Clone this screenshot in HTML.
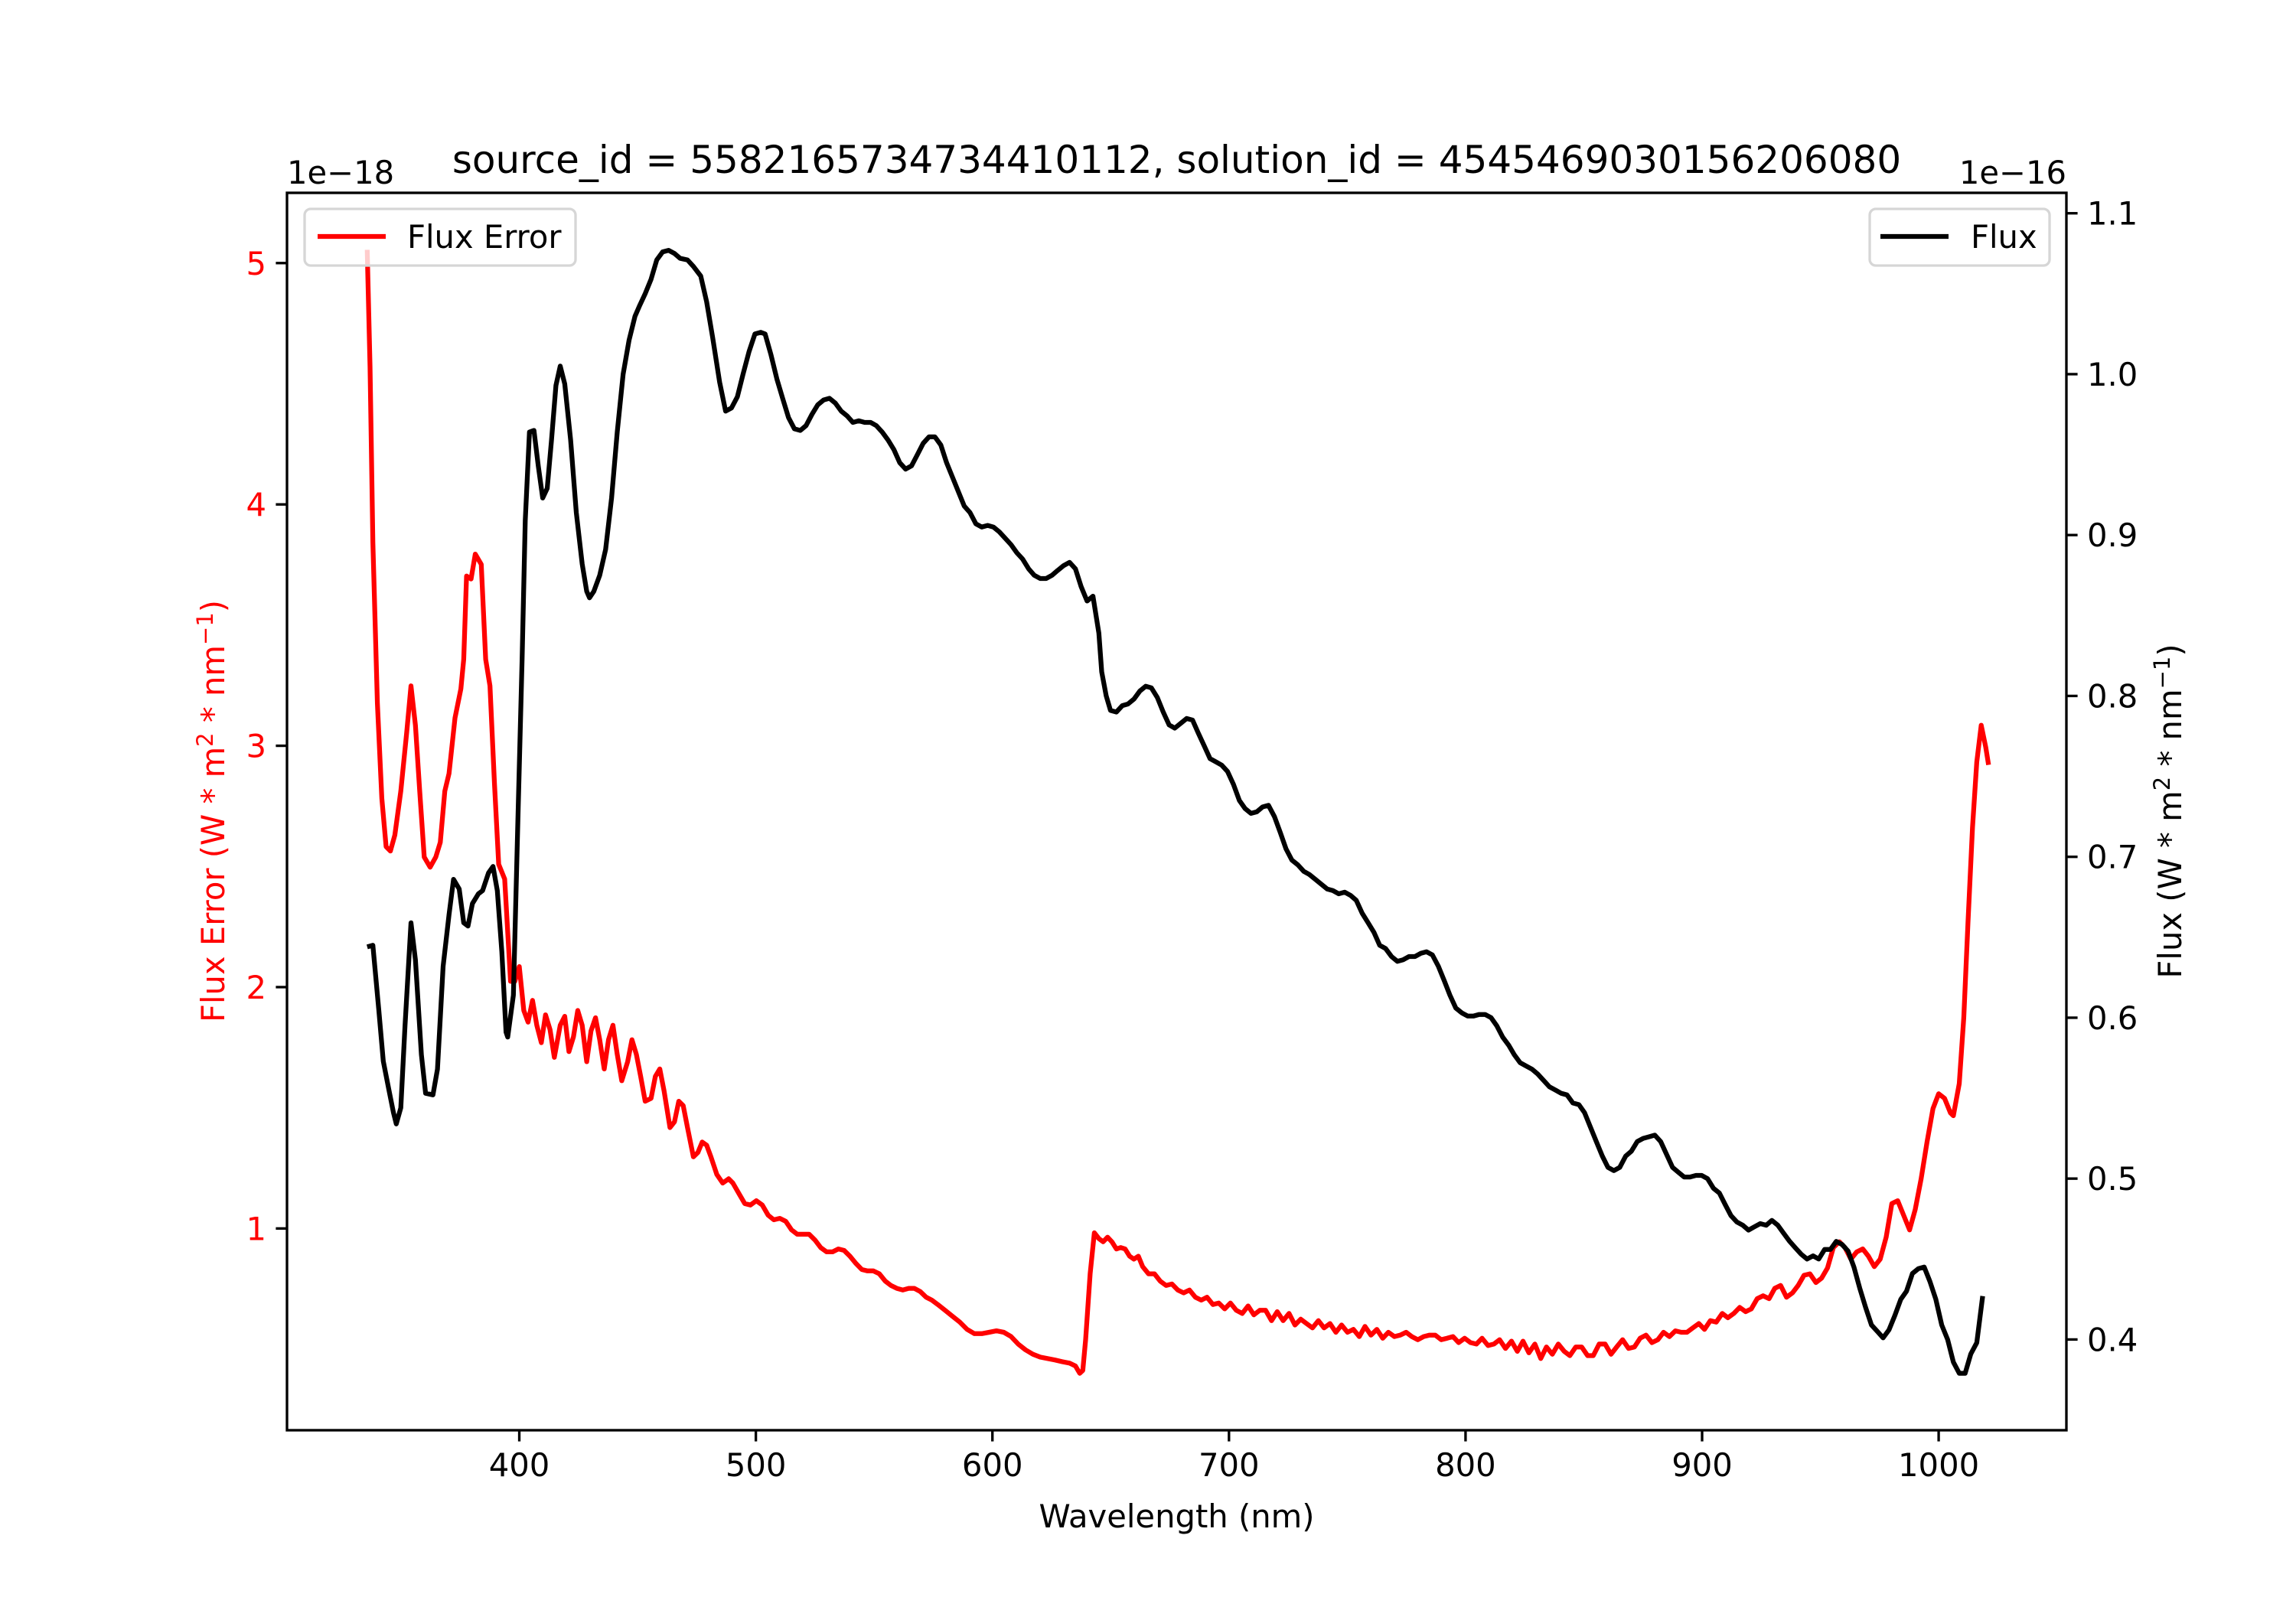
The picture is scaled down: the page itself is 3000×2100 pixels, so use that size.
<!DOCTYPE html>
<html><head><meta charset="utf-8"><style>
html,body{margin:0;padding:0;background:#fff;}
svg{display:block;font-family:"DejaVu Sans","Liberation Sans",sans-serif;}
</style></head><body>
<svg id="chart" width="3000" height="2100" viewBox="0 0 3000 2100">
<rect x="0" y="0" width="3000" height="2100" fill="#fff"/>
<g id="lines"></g>
<g id="axes"></g>
</svg>
<script>
// Flux (units 1e-16 W m^-2 nm^-1)
const fluxWave = [335.7,338.1,340.6,342.5,344.9,346.8,348.0,349.9,351.7,354.2,356.1,358.6,360.4,363.5,365.4,367.8,370.3,372.2,374.6,376.5,378.3,380.2,382.7,384.5,387.0,388.9,390.7,392.6,394.4,395.1,397.5,399.4,401.2,402.5,404.3,406.2,408.0,409.9,411.8,413.6,415.5,417.3,419.2,421.7,424.1,426.6,428.5,429.7,431.5,434.0,436.5,439.0,441.4,443.9,446.4,448.9,450.7,453.2,455.7,458.1,460.6,463.1,465.6,468.0,471.1,473.6,476.7,479.2,481.7,484.7,487.2,489.7,492.2,494.6,497.1,499.6,502.1,503.9,506.4,508.9,511.3,513.8,516.3,518.8,521.2,523.7,526.2,528.7,531.1,533.6,536.1,538.6,541.0,543.5,546.0,548.5,550.9,553.4,555.9,558.4,560.8,563.3,565.8,568.3,570.7,573.2,575.7,578.2,580.6,583.1,585.6,588.1,590.5,593.0,595.5,598.0,600.4,602.9,605.4,607.9,610.3,612.8,615.3,617.7,620.2,622.7,625.2,627.6,630.1,632.6,635.1,637.5,640.0,642.5,645.0,646.2,648.1,649.9,652.4,654.9,657.3,659.8,662.3,664.8,667.2,669.7,672.2,674.7,677.1,679.6,682.1,684.6,687.0,689.5,692.0,694.5,696.9,699.4,701.9,704.4,706.8,709.3,711.8,714.2,716.7,719.2,721.7,724.1,726.6,729.1,731.6,734.0,736.5,739.0,741.5,743.9,746.4,748.9,751.4,753.8,756.3,758.8,761.3,763.7,766.2,768.7,771.2,773.6,776.1,778.6,781.1,783.5,786.0,788.5,791.0,793.4,795.9,798.4,800.9,803.3,805.8,808.3,810.8,813.2,815.7,818.2,820.6,823.1,825.6,828.1,830.5,833.0,835.5,838.0,840.4,842.9,845.4,847.9,850.3,852.8,855.3,857.8,860.2,862.7,865.2,867.7,870.1,872.6,875.1,877.6,880.0,882.5,885.0,887.5,889.9,892.4,894.9,897.4,899.8,902.3,904.8,907.3,909.7,912.2,914.7,917.2,919.6,922.1,924.6,927.1,929.5,932.0,934.5,937.0,939.4,941.9,944.4,946.9,949.3,951.8,954.3,956.7,959.2,961.7,964.2,966.6,969.1,971.6,974.1,976.5,979.0,981.5,984.0,986.4,988.9,991.4,993.9,996.3,998.8,1001.3,1003.8,1006.2,1008.7,1011.2,1013.6,1016.1,1018.6];
const fluxVals = [0.644,0.645,0.605,0.573,0.555,0.541,0.534,0.544,0.595,0.659,0.636,0.577,0.553,0.552,0.568,0.632,0.664,0.686,0.680,0.659,0.657,0.671,0.677,0.679,0.690,0.694,0.679,0.641,0.591,0.588,0.614,0.723,0.823,0.909,0.964,0.965,0.943,0.923,0.929,0.959,0.993,1.005,0.994,0.959,0.914,0.882,0.865,0.861,0.865,0.875,0.891,0.923,0.964,1.000,1.021,1.036,1.042,1.050,1.059,1.071,1.076,1.077,1.075,1.072,1.071,1.067,1.061,1.045,1.023,0.995,0.977,0.979,0.986,1.000,1.014,1.025,1.026,1.025,1.012,0.997,0.985,0.973,0.966,0.965,0.968,0.975,0.981,0.984,0.985,0.982,0.977,0.974,0.970,0.971,0.970,0.970,0.968,0.964,0.959,0.953,0.945,0.941,0.943,0.950,0.957,0.961,0.961,0.956,0.945,0.936,0.927,0.918,0.914,0.907,0.905,0.906,0.905,0.902,0.898,0.894,0.889,0.885,0.879,0.875,0.873,0.873,0.875,0.878,0.881,0.883,0.879,0.868,0.859,0.862,0.839,0.815,0.800,0.791,0.790,0.794,0.795,0.798,0.803,0.806,0.805,0.799,0.790,0.782,0.780,0.783,0.786,0.785,0.777,0.769,0.761,0.759,0.757,0.753,0.745,0.735,0.730,0.727,0.728,0.731,0.732,0.725,0.715,0.705,0.698,0.695,0.691,0.689,0.686,0.683,0.680,0.679,0.677,0.678,0.676,0.673,0.665,0.659,0.653,0.645,0.643,0.638,0.635,0.636,0.638,0.638,0.640,0.641,0.639,0.632,0.623,0.614,0.606,0.603,0.601,0.601,0.602,0.602,0.600,0.595,0.588,0.583,0.577,0.572,0.570,0.568,0.565,0.561,0.557,0.555,0.553,0.552,0.547,0.546,0.541,0.532,0.523,0.514,0.507,0.505,0.507,0.514,0.517,0.523,0.525,0.526,0.527,0.523,0.515,0.507,0.504,0.501,0.501,0.502,0.502,0.500,0.494,0.491,0.484,0.477,0.473,0.471,0.468,0.470,0.472,0.471,0.474,0.471,0.466,0.461,0.457,0.453,0.450,0.452,0.450,0.456,0.456,0.461,0.459,0.455,0.445,0.432,0.420,0.409,0.405,0.401,0.406,0.415,0.425,0.430,0.441,0.444,0.445,0.436,0.425,0.409,0.400,0.386,0.379,0.379,0.391,0.398,0.427];
// Flux error (units 1e-18 W m^-2 nm^-1)
const errWave = [335.7,336.9,338.1,340.0,341.9,343.7,345.5,347.4,349.9,352.4,354.2,356.1,357.9,359.8,362.3,364.7,366.6,368.5,370.3,372.8,375.3,376.5,377.7,379.6,381.4,383.9,385.8,387.6,389.5,391.3,393.8,396.3,398.1,400.0,401.9,403.7,405.6,407.4,409.3,411.1,413.0,414.8,417.3,419.2,421.0,422.9,424.7,426.6,428.5,430.3,432.2,434.0,435.9,437.7,439.6,441.4,443.3,445.8,447.6,449.5,451.3,453.2,455.7,457.5,459.4,461.2,463.7,465.6,467.4,469.3,471.1,473.6,475.5,477.3,479.2,481.0,483.5,486.0,488.5,490.3,492.8,495.3,497.7,500.2,502.7,505.2,507.6,510.1,512.6,515.1,517.5,520.0,522.5,525.0,527.4,529.9,532.4,534.9,537.3,539.8,542.3,544.8,547.2,549.7,552.2,554.7,557.1,559.6,562.1,564.6,567.0,569.5,572.0,574.4,576.9,580.0,583.1,586.2,589.3,592.4,595.5,598.6,601.7,604.8,607.9,610.9,614.0,617.1,620.2,623.3,626.4,629.5,632.6,635.1,636.9,638.2,639.4,641.3,643.1,645.0,646.8,648.7,650.5,652.4,654.2,656.1,658.0,659.8,661.7,663.5,666.0,668.5,670.9,673.4,
675.9,678.4,680.8,683.3,685.8,688.3,690.7,693.2,695.7,698.2,
700.6,703.1,705.6,708.1,710.5,713.0,715.5,718.0,720.4,722.9,
725.4,727.9,730.3,732.8,735.3,737.8,740.2,742.7,745.2,747.6,
750.1,752.6,755.1,757.5,760.0,762.5,765.0,767.4,769.9,772.4,
774.9,777.3,779.8,782.3,784.8,787.2,789.7,792.2,794.7,797.1,
799.6,802.1,804.6,807.0,809.5,812.0,814.4,816.9,819.4,821.9,
824.3,826.8,829.3,831.8,834.2,836.7,839.2,841.7,844.1,846.6,
849.1,851.6,854.0,856.5,859.0,861.5,863.9,866.4,868.9,871.4,
873.8,876.3,878.8,881.3,883.7,886.2,888.7,891.2,893.6,896.1,
898.6,901.0,903.5,906.0,908.5,910.9,913.4,915.9,918.4,920.8,
923.3,925.8,928.3,930.7,933.2,935.7,938.2,940.6,943.1,945.6,
948.1,950.5,953.0,955.5,958.0,960.4,962.9,965.4,967.9,970.3,
972.8,975.3,977.8,980.2,982.7,985.2,987.7,990.1,992.6,995.1,
997.6,1000.0,1002.5,1005.0,1006.2,1008.7,1010.6,1012.4,1014.3,1016.1,1018.0,1019.9,1021.1];
const errVals = [5.055,4.570,3.842,3.176,2.782,2.582,2.564,2.630,2.812,3.055,3.248,3.085,2.812,2.539,2.497,2.539,2.600,2.812,2.885,3.115,3.236,3.358,3.703,3.691,3.794,3.752,3.358,3.248,2.842,2.509,2.448,2.024,2.024,2.085,1.903,1.855,1.945,1.842,1.770,1.885,1.824,1.709,1.842,1.879,1.733,1.794,1.903,1.842,1.691,1.818,1.873,1.782,1.661,1.782,1.842,1.721,1.612,1.691,1.782,1.721,1.630,1.527,1.539,1.630,1.661,1.570,1.418,1.442,1.527,1.509,1.418,1.297,1.315,1.358,1.345,1.297,1.224,1.188,1.206,1.188,1.145,1.103,1.097,1.115,1.097,1.055,1.036,1.042,1.030,0.994,0.976,0.976,0.976,0.952,0.921,0.903,0.903,0.915,0.909,0.885,0.855,0.830,0.824,0.824,0.812,0.782,0.764,0.752,0.745,0.752,0.752,0.739,0.715,0.703,0.685,0.661,0.636,0.612,0.582,0.564,0.564,0.570,0.576,0.570,0.552,0.521,0.497,0.479,0.467,0.461,0.455,0.448,0.442,0.430,0.400,0.412,0.539,0.812,0.982,0.958,0.945,0.964,0.945,0.915,0.921,0.915,0.885,0.873,0.885,0.842,0.812,0.812,0.782,0.764,
0.770,0.745,0.733,0.745,0.715,0.703,0.715,0.685,0.691,0.667,
0.691,0.661,0.648,0.679,0.642,0.661,0.661,0.618,0.655,0.618,
0.648,0.600,0.624,0.606,0.588,0.618,0.588,0.606,0.570,0.600,
0.570,0.582,0.552,0.594,0.558,0.582,0.545,0.570,0.552,0.558,
0.570,0.552,0.539,0.552,0.558,0.558,0.539,0.545,0.552,0.527,
0.545,0.527,0.521,0.545,0.515,0.521,0.539,0.503,0.533,0.491,
0.533,0.485,0.521,0.461,0.509,0.479,0.521,0.491,0.473,0.509,
0.509,0.473,0.473,0.521,0.521,0.479,0.509,0.539,0.503,0.509,
0.545,0.558,0.527,0.539,0.570,0.552,0.576,0.570,0.570,0.588,
0.606,0.582,0.618,0.612,0.648,0.630,0.648,0.673,0.655,0.667,
0.709,0.721,0.709,0.752,0.764,0.715,0.733,0.764,0.806,0.812,
0.776,0.794,0.836,0.921,0.945,0.921,0.873,0.903,0.915,0.885,
0.842,0.873,0.964,1.103,1.115,1.055,0.994,1.079,1.206,1.358,
1.497,1.558,1.539,1.479,1.467,1.600,1.873,2.267,2.661,2.933,3.085,2.994,2.921];
const xTicks = [400,500,600,700,800,900,1000];
const leftTicks = [1,2,3,4,5];
const rightTicks = [0.4,0.5,0.6,0.7,0.8,0.9,1.0,1.1];
const rightTickLabels = ["0.4","0.5","0.6","0.7","0.8","0.9","1.0","1.1"];

const NS = "http://www.w3.org/2000/svg";
const L = 375, R = 2700, T = 252, B = 1869;
const xDom = [301.8, 1054.0], lDom = [0.164, 5.291], rDom = [0.3436, 1.1127];
function xs(w){ return L + (w - xDom[0]) / (xDom[1] - xDom[0]) * (R - L); }
function yl(v){ return B - (v - lDom[0]) / (lDom[1] - lDom[0]) * (B - T); }
function yr(v){ return B - (v - rDom[0]) / (rDom[1] - rDom[0]) * (B - T); }
function mk(tag, attrs, parent){ const e = document.createElementNS(NS, tag); for (const k in attrs) e.setAttribute(k, attrs[k]); parent.appendChild(e); return e; }
function txt(s, attrs, parent){ const e = mk('text', attrs, parent); e.textContent = s; return e; }

const lines = document.getElementById('lines');
const axes = document.getElementById('axes');

const defs = mk('defs', {}, lines);
const cp = mk('clipPath', {id:'clip'}, defs);
mk('rect', {x:L, y:T, width:R-L, height:B-T}, cp);

const errPath = mk('path', {d: errWave.map((w,i)=>(i?'L':'M')+xs(w).toFixed(1)+','+yl(errVals[i]).toFixed(1)).join(''), fill:'none', stroke:'#ff0000', 'stroke-width':6.25, 'stroke-linejoin':'round', 'clip-path':'url(#clip)'}, lines);


const fluxPath = mk('path', {d: fluxWave.map((w,i)=>(i?'L':'M')+xs(w).toFixed(1)+','+yr(fluxVals[i]).toFixed(1)).join(''), fill:'none', stroke:'#000', 'stroke-width':6.25, 'stroke-linejoin':'round', 'clip-path':'url(#clip)'}, lines);



const frame = mk('rect', {x:L, y:T, width:R-L, height:B-T, fill:'none', stroke:'#000', 'stroke-width':3.33}, axes);



const FS = 41.7;
xTicks.forEach(t=>{
  const x = xs(t);
  const tk = mk('line', {x1:x, x2:x, y1:B, y2:B+14.6, stroke:'#000', 'stroke-width':3.33}, axes);
  
  
  const lb = txt(String(t), {x:x, y:B+60, 'font-size':FS, 'text-anchor':'middle'}, axes);
  
  
});
leftTicks.forEach(t=>{
  const y = yl(t);
  const tk = mk('line', {x1:L-14.6, x2:L, y1:y, y2:y, stroke:'#000', 'stroke-width':3.33}, axes);
  
  
  const lb = txt(String(t), {x:L-27, y:y+15, 'font-size':FS, 'text-anchor':'end', fill:'#ff0000'}, axes);
  
  
});
rightTicks.forEach((t,i)=>{
  const y = yr(t);
  const tk = mk('line', {x1:R, x2:R+14.6, y1:y, y2:y, stroke:'#000', 'stroke-width':3.33}, axes);
  
  
  const lb = txt(rightTickLabels[i], {x:R+27, y:y+15, 'font-size':FS, 'text-anchor':'start'}, axes);
  
  
});
</script>
<script>
(function(){
const svg = document.getElementById('chart');
const NS = "http://www.w3.org/2000/svg";
function mk(tag, attrs){ const e = document.createElementNS(NS, tag); for (const k in attrs) e.setAttribute(k, attrs[k]); svg.appendChild(e); return e; }
function txt(s, attrs){ const e = mk('text', attrs); e.textContent = s; return e; }
const t1 = txt('source_id = 5582165734734410112, solution_id = 4545469030156206080', {x:1537.5, y:226, 'font-size':50, 'text-anchor':'middle'});


const o1 = txt('1e\u221218', {x:375, y:240, 'font-size':41.7, 'text-anchor':'start'});


const o2 = txt('1e\u221216', {x:2700, y:240, 'font-size':41.7, 'text-anchor':'end'});


const xl = txt('Wavelength (nm)', {x:1537.5, y:1996, 'font-size':41.7, 'text-anchor':'middle'});


const ylT = txt('', {transform:'translate(293,1060) rotate(-90)', 'font-size':41.7, 'text-anchor':'middle', fill:'#ff0000'});
ylT.innerHTML = 'Flux Error (W * m<tspan dy="-15" font-size="29">2</tspan><tspan dy="15"> * nm</tspan><tspan dy="-15" font-size="29">\u22121</tspan><tspan dy="15">)</tspan>';


const yrT = txt('', {transform:'translate(2850,1060) rotate(-90)', 'font-size':41.7, 'text-anchor':'middle'});
yrT.innerHTML = 'Flux (W * m<tspan dy="-15" font-size="29">2</tspan><tspan dy="15"> * nm</tspan><tspan dy="-15" font-size="29">\u22121</tspan><tspan dy="15">)</tspan>';


const lg1 = mk('rect', {x:398, y:273, width:354, height:74, rx:8, fill:'#fff', 'fill-opacity':0.8, stroke:'#d6d6d6', 'stroke-width':3.3});


const ll1 = mk('line', {x1:415, x2:504, y1:309, y2:309, stroke:'#ff0000', 'stroke-width':6.25});


const lt1 = txt('Flux Error', {x:532, y:324, 'font-size':41.7});


const lg2 = mk('rect', {x:2443, y:273, width:235, height:74, rx:8, fill:'#fff', 'fill-opacity':0.8, stroke:'#d6d6d6', 'stroke-width':3.3});


const ll2 = mk('line', {x1:2457, x2:2546, y1:309, y2:309, stroke:'#000', 'stroke-width':6.25});


const lt2 = txt('Flux', {x:2575, y:324, 'font-size':41.7});


})();
</script>
</body></html>
